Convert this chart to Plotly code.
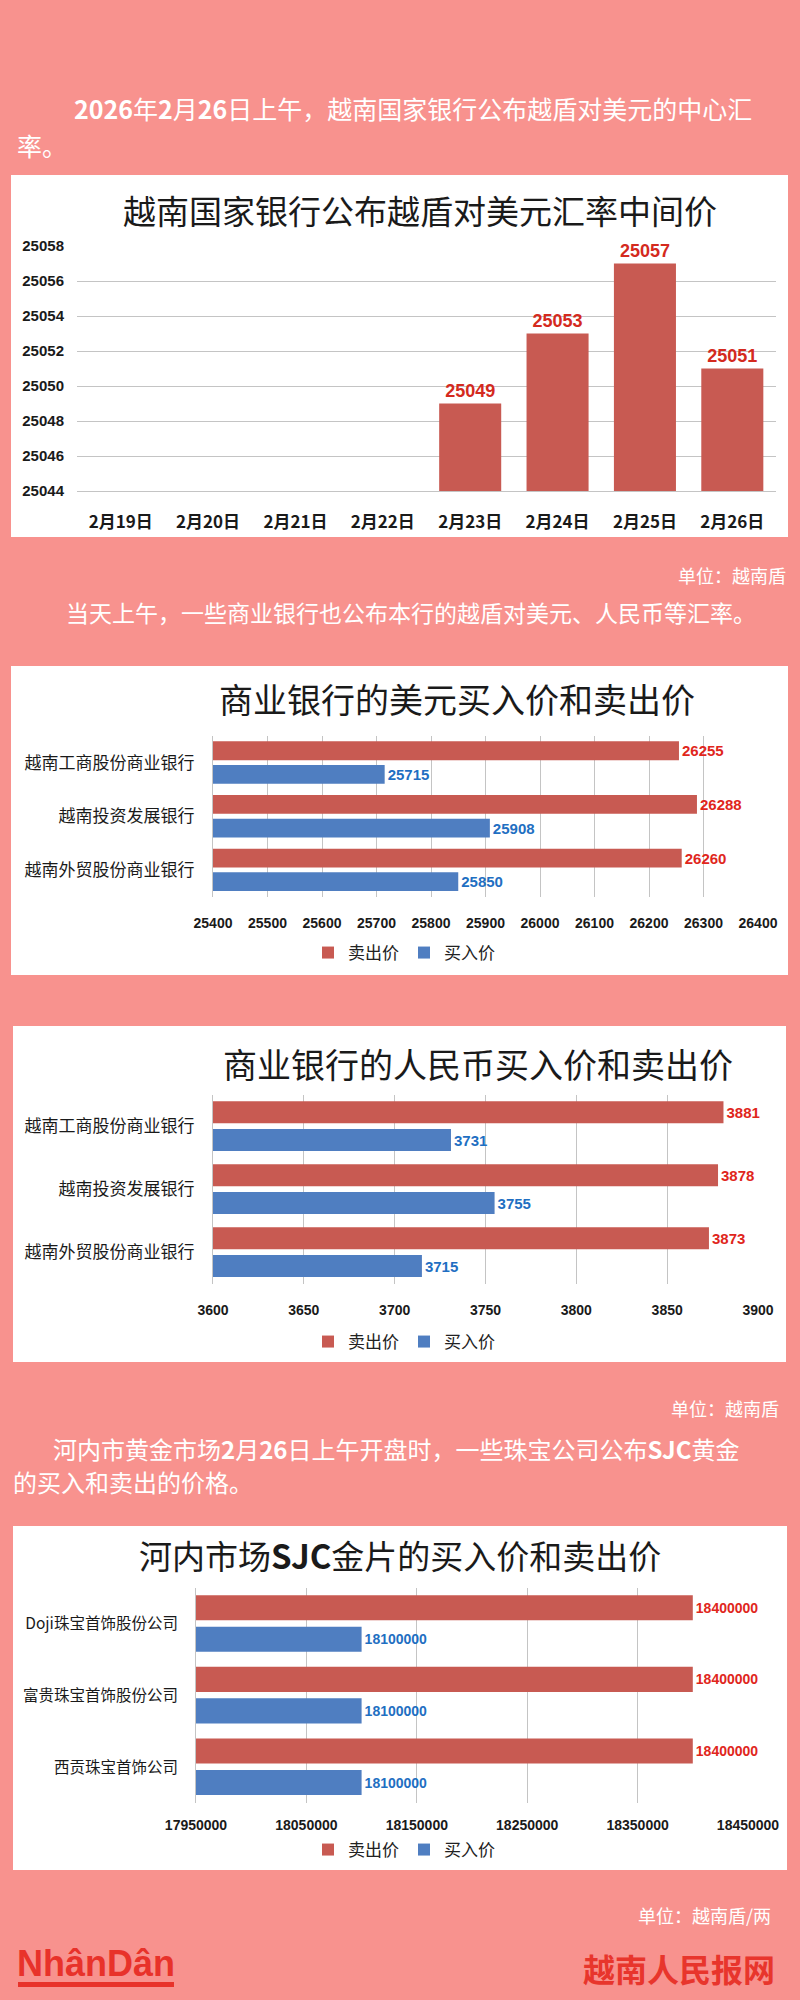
import plotly.graph_objects as go

W, H = 800, 2000


def px(x):
    return x / W


def py(y):
    return 1 - y / H


BG = "#F8928E"
RED = "#C85A52"
BLUE = "#4F7EC1"
RED_TXT = "#E0261C"
BLUE_TXT = "#1F6FC2"
GRID = "#C4C4C4"
CJK = "Noto Sans CJK SC"
NUM = "Liberation Sans, Arial"

# ---------------- data ----------------
dates = ["2月19日", "2月20日", "2月21日", "2月22日", "2月23日", "2月24日", "2月25日", "2月26日"]
central_rate = [None, None, None, None, 25049, 25053, 25057, 25051]

banks = ["越南工商股份商业银行", "越南投资发展银行", "越南外贸股份商业银行"]
usd_sell = [26255, 26288, 26260]
usd_buy = [25715, 25908, 25850]
cny_sell = [3881, 3878, 3873]
cny_buy = [3731, 3755, 3715]

jewelers = ["Doji珠宝首饰股份公司", "富贵珠宝首饰股份公司", "西贡珠宝首饰公司"]
gold_sell = [18400000, 18400000, 18400000]
gold_buy = [18100000, 18100000, 18100000]

series_names = ["卖出价", "买入价"]

fig = go.Figure()

# ---------------- chart 1 ----------------
fig.add_trace(go.Bar(
    x=dates, y=central_rate, xaxis="x", yaxis="y",
    marker=dict(color=RED, line=dict(width=0)), width=0.71,
    text=["" if v is None else str(v) for v in central_rate],
    textposition="outside", cliponaxis=False,
    textfont=dict(family=NUM, size=18, color="#D42A1E", weight="bold"),
    showlegend=False,
))


def hbars(cats, sell, buy, xa, ya, leg, fsize):
    for vals, name, col, tcol, off in [
        (sell, series_names[0], RED, RED_TXT, -0.40),
        (buy, series_names[1], BLUE, BLUE_TXT, 0.04),
    ]:
        fig.add_trace(go.Bar(
            y=cats, x=vals, orientation="h", name=name, xaxis=xa, yaxis=ya,
            marker=dict(color=col, line=dict(width=0)), offset=off, width=0.35,
            text=[str(v) for v in vals], textposition="outside", cliponaxis=False,
            textfont=dict(family=NUM, size=fsize, color=tcol, weight="bold"),
            legend=leg,
        ))


hbars(banks, usd_sell, usd_buy, "x2", "y2", "legend2", 15)
hbars(banks, cny_sell, cny_buy, "x3", "y3", "legend3", 15)
hbars(jewelers, gold_sell, gold_buy, "x4", "y4", "legend4", 14)

# ---------------- panels ----------------
shapes = []
for (x0, y0, x1, y1) in [(11, 175, 788, 537), (11, 666, 788, 975), (13, 1026, 786, 1362), (13, 1526, 787, 1870)]:
    shapes.append(dict(type="rect", xref="paper", yref="paper", x0=px(x0), x1=px(x1), y0=py(y0), y1=py(y1),
                       fillcolor="white", line=dict(width=0), layer="below"))
# logo underline
shapes.append(dict(type="rect", xref="paper", yref="paper", x0=px(18), x1=px(174), y0=py(1987), y1=py(1982),
                   fillcolor="#E8322A", line=dict(width=0)))

ann = []


def text(t, x, y, size, color="white", xanchor="left", bold=False, family=CJK):
    ann.append(dict(text=t, x=px(x), y=py(y), xref="paper", yref="paper", showarrow=False,
                    xanchor=xanchor, yanchor="middle",
                    font=dict(family=family, size=size, color=color, weight="bold" if bold else "normal")))


text("<b>2026</b>年<b>2</b>月<b>26</b>日上午，越南国家银行公布越盾对美元的中心汇", 72, 108, 25)
text("率。", 15, 145, 25)
text("越南国家银行公布越盾对美元汇率中间价", 420, 210, 33, color="#1a1a1a", xanchor="center")
text("单位：越南盾", 788, 575, 18, xanchor="right")
text("当天上午，一些商业银行也公布本行的越盾对美元、人民币等汇率。", 64, 612, 23)
text("商业银行的美元买入价和卖出价", 457, 698, 34, color="#1a1a1a", xanchor="center")
text("商业银行的人民币买入价和卖出价", 478, 1063, 34, color="#1a1a1a", xanchor="center")
text("单位：越南盾", 781, 1408, 18, xanchor="right")
text("河内市黄金市场<b>2</b>月<b>26</b>日上午开盘时，一些珠宝公司公布<b>SJC</b>黄金", 51, 1448, 24)
text("的买入和卖出的价格。", 11, 1481, 24)
text("河内市场<b>SJC</b>金片的买入价和卖出价", 400, 1555, 33, color="#1a1a1a", xanchor="center")
text("单位：越南盾/两", 773, 1915, 18, xanchor="right")
text("NhânDân", 15, 1963, 36, color="#E8322A", bold=True, family="Liberation Sans, Arial")
text("越南人民报网", 777, 1968, 32, color="#E8352C", xanchor="right", bold=True)

tickfont_num = dict(family=NUM, size=15, color="#1a1a1a", weight="bold")
tickfont_cjk = dict(family=CJK, size=17, color="#1a1a1a")


def legend_cfg(xc, yc):
    return dict(orientation="h", x=px(xc), xanchor="center", y=py(yc), yanchor="middle",
                font=dict(family=CJK, size=17, color="#222"), bgcolor="rgba(0,0,0,0)",
                traceorder="normal", itemwidth=30, tracegroupgap=0)


common = dict(automargin=False, fixedrange=True)

fig.update_layout(
    width=W, height=H, margin=dict(l=0, r=0, t=0, b=0, pad=0, autoexpand=False),
    paper_bgcolor=BG, plot_bgcolor="rgba(0,0,0,0)",
    barmode="overlay", shapes=shapes, annotations=ann,
    legend=dict(visible=False),
    legend2=legend_cfg(404, 953),
    legend3=legend_cfg(404, 1342),
    legend4=legend_cfg(404, 1850),
    # chart 1
    xaxis=dict(domain=[px(77), px(776)], anchor="y", type="category", showgrid=False,
               showline=True, linecolor=GRID, ticks="", ticklabelstandoff=16,
               tickfont=dict(family=CJK, size=17, color="#1a1a1a", weight="bold"), **common),
    yaxis=dict(domain=[py(491), py(246)], anchor="x", range=[25044, 25058], dtick=2, tick0=25044,
               tickformat="d", showgrid=True, gridcolor=GRID, zeroline=False, showline=False,
               ticklabelstandoff=12, tickfont=tickfont_num, **common),
    # chart 2
    xaxis2=dict(domain=[px(213), px(758)], anchor="y2", range=[25400, 26400], dtick=100, tick0=25400,
                tickformat="d", showgrid=True, gridcolor=GRID, zeroline=False, ticks="",
                ticklabelstandoff=16, tickfont=dict(family=NUM, size=14, color="#1a1a1a", weight="bold"),
                **common),
    yaxis2=dict(domain=[py(897), py(736)], anchor="x2", type="category", autorange="reversed",
                showline=True, linecolor=GRID, ticks="", ticklabelstandoff=14, tickfont=tickfont_cjk, **common),
    # chart 3
    xaxis3=dict(domain=[px(213), px(758)], anchor="y3", range=[3600, 3900], dtick=50, tick0=3600,
                tickformat="d", showgrid=True, gridcolor=GRID, zeroline=False, ticks="",
                ticklabelstandoff=16, tickfont=dict(family=NUM, size=14, color="#1a1a1a", weight="bold"),
                **common),
    yaxis3=dict(domain=[py(1284), py(1095)], anchor="x3", type="category", autorange="reversed",
                showline=True, linecolor=GRID, ticks="", ticklabelstandoff=14, tickfont=tickfont_cjk, **common),
    # chart 4
    xaxis4=dict(domain=[px(196), px(748)], anchor="y4", range=[17950000, 18450000], dtick=100000,
                tick0=17950000, tickformat="d", showgrid=True, gridcolor=GRID, zeroline=False, ticks="",
                ticklabelstandoff=12, tickfont=dict(family=NUM, size=14, color="#1a1a1a", weight="bold"),
                **common),
    yaxis4=dict(domain=[py(1803), py(1588)], anchor="x4", type="category", autorange="reversed",
                showline=True, linecolor=GRID, ticks="", ticklabelstandoff=14,
                tickfont=dict(family=CJK, size=15.5, color="#1a1a1a"), **common),
)

fig.write_html("out.html", config={"displayModeBar": False, "staticPlot": True},
               post_script="document.body.style.margin='0';document.body.style.overflow='hidden';")
